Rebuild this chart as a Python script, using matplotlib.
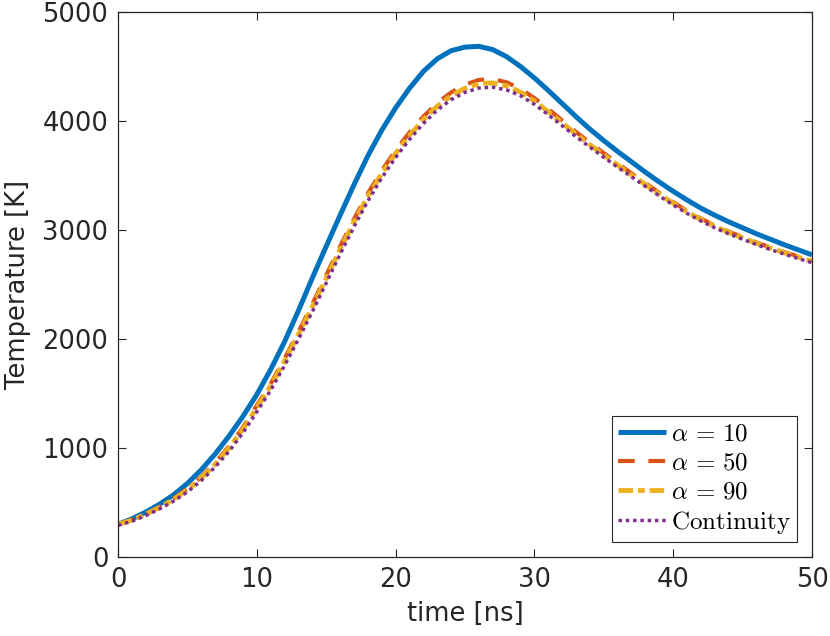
import matplotlib
matplotlib.use("Agg")
import matplotlib.pyplot as plt

plt.rcParams['font.family'] = ['DejaVu Sans']
plt.rcParams['mathtext.fontset'] = 'cm'

# time axis [ns], one value per ns
time_ns = list(range(0, 51))

# temperature [K]
temp_a10 = [300, 350, 412, 485, 570, 675, 800, 945, 1110, 1290,
            1490, 1720, 1975, 2260, 2560, 2850, 3135, 3415, 3680, 3915,
            4120, 4300, 4455, 4570, 4645, 4678, 4685, 4655, 4590, 4500,
            4395, 4280, 4160, 4040, 3925, 3820, 3720, 3625, 3530, 3440,
            3355, 3275, 3200, 3135, 3075, 3020, 2965, 2915, 2865, 2818,
            2772]
temp_a50 = [300, 340, 395, 460, 535, 625, 735, 865, 1015, 1190,
            1390, 1590, 1820, 2065, 2320, 2585, 2850, 3100, 3335, 3545,
            3730, 3895, 4040, 4165, 4262, 4333, 4377, 4385, 4355, 4295,
            4210, 4110, 4005, 3900, 3800, 3705, 3610, 3520, 3430, 3340,
            3255, 3175, 3105, 3040, 2985, 2935, 2885, 2840, 2798, 2758,
            2720]
temp_a90 = [300, 338, 392, 455, 528, 616, 724, 852, 1000, 1172,
            1370, 1570, 1798, 2042, 2295, 2558, 2823, 3073, 3308, 3518,
            3703, 3867, 4012, 4135, 4232, 4300, 4342, 4350, 4322, 4265,
            4183, 4086, 3983, 3880, 3782, 3688, 3595, 3506, 3417, 3329,
            3245, 3166, 3097, 3033, 2978, 2928, 2879, 2834, 2792, 2752,
            2714]
temp_cont = [290, 328, 380, 441, 512, 597, 702, 826, 970, 1138,
             1332, 1530, 1756, 1998, 2250, 2513, 2778, 3029, 3266, 3478,
             3665, 3831, 3977, 4100, 4196, 4263, 4302, 4310, 4285, 4232,
             4153, 4058, 3957, 3856, 3760, 3667, 3576, 3488, 3400, 3313,
             3230, 3152, 3083, 3020, 2965, 2915, 2866, 2821, 2779, 2739,
             2700]

labels = [r'$\alpha\,=\,10$', r'$\alpha\,=\,50$', r'$\alpha\,=\,90$', r'$\mathrm{Continuity}$']

fig = plt.figure(figsize=(8.30, 6.36), dpi=100)
ax = fig.add_axes([118 / 830, 79 / 636, 694 / 830, 545 / 636])

ax.plot(time_ns, temp_a10, color='#0072BD', lw=3.6, solid_capstyle='butt', label=labels[0])
ax.plot(time_ns, temp_a50, color='#D95319', lw=3.0, dashes=(4, 3.3), label=labels[1])
ax.plot(time_ns, temp_a90, color='#EDB120', lw=3.5, dashes=(3.0, 1.0, 1.4, 1.0), label=labels[2])
ax.plot(time_ns, temp_cont, color='#7E2F8E', lw=2.5, dashes=(1, 1.1), label=labels[3])

ax.set_xlim(0, 50)
ax.set_ylim(0, 5000)
ax.set_xticks([0, 10, 20, 30, 40, 50])
ax.set_yticks([0, 1000, 2000, 3000, 4000, 5000])

ax.tick_params(direction='in', length=6, width=0.8, colors='#262626',
               labelsize=18.5, top=True, right=True, pad=7)
for s in ax.spines.values():
    s.set_color('#262626')
    s.set_linewidth(0.9)

ax.set_xlabel('time [ns]', fontsize=18.5, color='#262626', labelpad=6)
ax.set_ylabel('Temperature [K]', fontsize=18.5, color='#262626', labelpad=8)

leg = ax.legend(loc='lower right', fontsize=18, frameon=True, fancybox=False,
                handlelength=1.9, handletextpad=0.2, borderpad=0.25,
                labelspacing=0.2, borderaxespad=0.6)
leg.get_frame().set_edgecolor('#262626')
leg.get_frame().set_linewidth(0.8)
leg.get_frame().set_alpha(1)

fig.savefig('out.png', dpi=100)
